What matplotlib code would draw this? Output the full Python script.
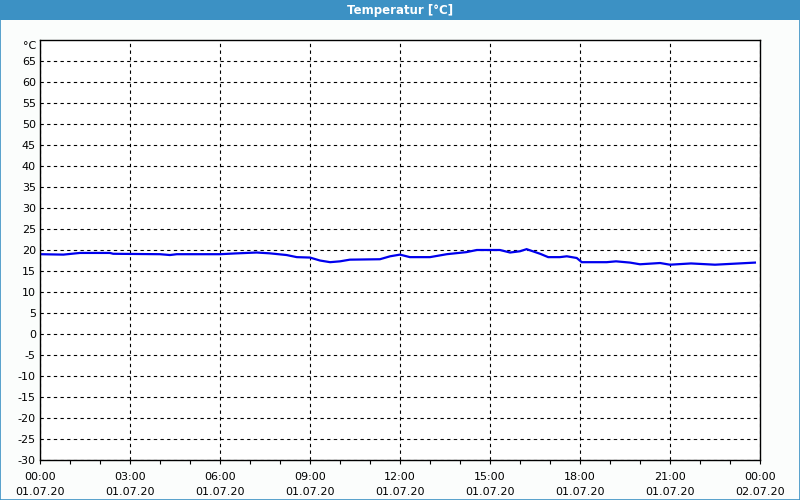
import matplotlib.pyplot as plt
from matplotlib.patches import Rectangle
from matplotlib.ticker import MultipleLocator

# hours since 01.07.20 00:00 and temperature in degC
hours = [0.0, 0.78, 1.33, 2.33, 2.44, 4.0, 4.33, 4.56, 6.0, 6.56, 7.22, 7.67,
         8.22, 8.56, 9.0, 9.33, 9.67, 10.0, 10.33, 11.33, 11.67, 12.0, 12.33,
         13.0, 13.56, 14.22, 14.56, 15.33, 15.67, 16.0, 16.22, 16.67, 16.94,
         17.33, 17.56, 17.89, 18.06, 18.89, 19.2, 19.67, 20.0, 20.67, 21.0,
         21.7, 22.5, 23.3, 23.83]
temps = [19.0, 18.9, 19.3, 19.3, 19.1, 19.0, 18.8, 19.0, 19.0, 19.2, 19.4, 19.2,
         18.8, 18.3, 18.2, 17.5, 17.1, 17.3, 17.7, 17.8, 18.5, 18.9, 18.3,
         18.3, 19.0, 19.5, 20.0, 20.0, 19.4, 19.7, 20.2, 19.1, 18.3,
         18.3, 18.5, 18.1, 17.1, 17.1, 17.3, 17.0, 16.6, 16.9, 16.5,
         16.8, 16.5, 16.8, 17.0]

tick_hours = [0, 3, 6, 9, 12, 15, 18, 21, 24]
tick_labels = ["00:00\n01.07.20", "03:00\n01.07.20", "06:00\n01.07.20",
               "09:00\n01.07.20", "12:00\n01.07.20", "15:00\n01.07.20",
               "18:00\n01.07.20", "21:00\n01.07.20", "00:00\n02.07.20"]
y_ticks = list(range(-30, 70, 5))

bar_color = "#3c91c4"

fig = plt.figure(figsize=(8, 5), dpi=100, facecolor="#fbfdfc")
ax = fig.add_axes([0.05, 0.08, 0.9, 0.84])
ax.set_facecolor("white")

ax.plot(hours, temps, color="#0000ee", lw=1.6, solid_joinstyle="miter")

ax.set_xlim(0, 24)
ax.set_ylim(-30, 70)
ax.set_xticks(tick_hours)
ax.set_xticklabels(tick_labels, fontsize=8, linespacing=1.6)
ax.xaxis.set_minor_locator(MultipleLocator(1))
ax.set_yticks(y_ticks)
ax.set_yticklabels([str(v) for v in y_ticks], fontsize=8)

ax.tick_params(axis="x", which="both", length=3, width=0.8, pad=6)
ax.tick_params(axis="y", length=0, pad=3)
ax.grid(True, color="black", lw=0.8, linestyle=(0, (3, 3)))
for s in ax.spines.values():
    s.set_color("black")
    s.set_linewidth(1)

fig.text(36 / 800, 1 - 46 / 500, "°C", fontsize=8, ha="right", va="center")

# title bar and window border
fig.patches.append(Rectangle((0, 0.96), 1, 0.04, transform=fig.transFigure,
                             facecolor=bar_color, edgecolor="none", zorder=0))
fig.patches.append(Rectangle((0.0006, 0.001), 0.9988, 0.998, transform=fig.transFigure,
                             facecolor="none", edgecolor=bar_color, lw=1.2))
fig.text(0.5, 0.979, "Temperatur [°C]", color="white", fontsize=8.5,
         fontweight="bold", ha="center", va="center")

fig.savefig("out.png", dpi=100, facecolor=fig.get_facecolor())
